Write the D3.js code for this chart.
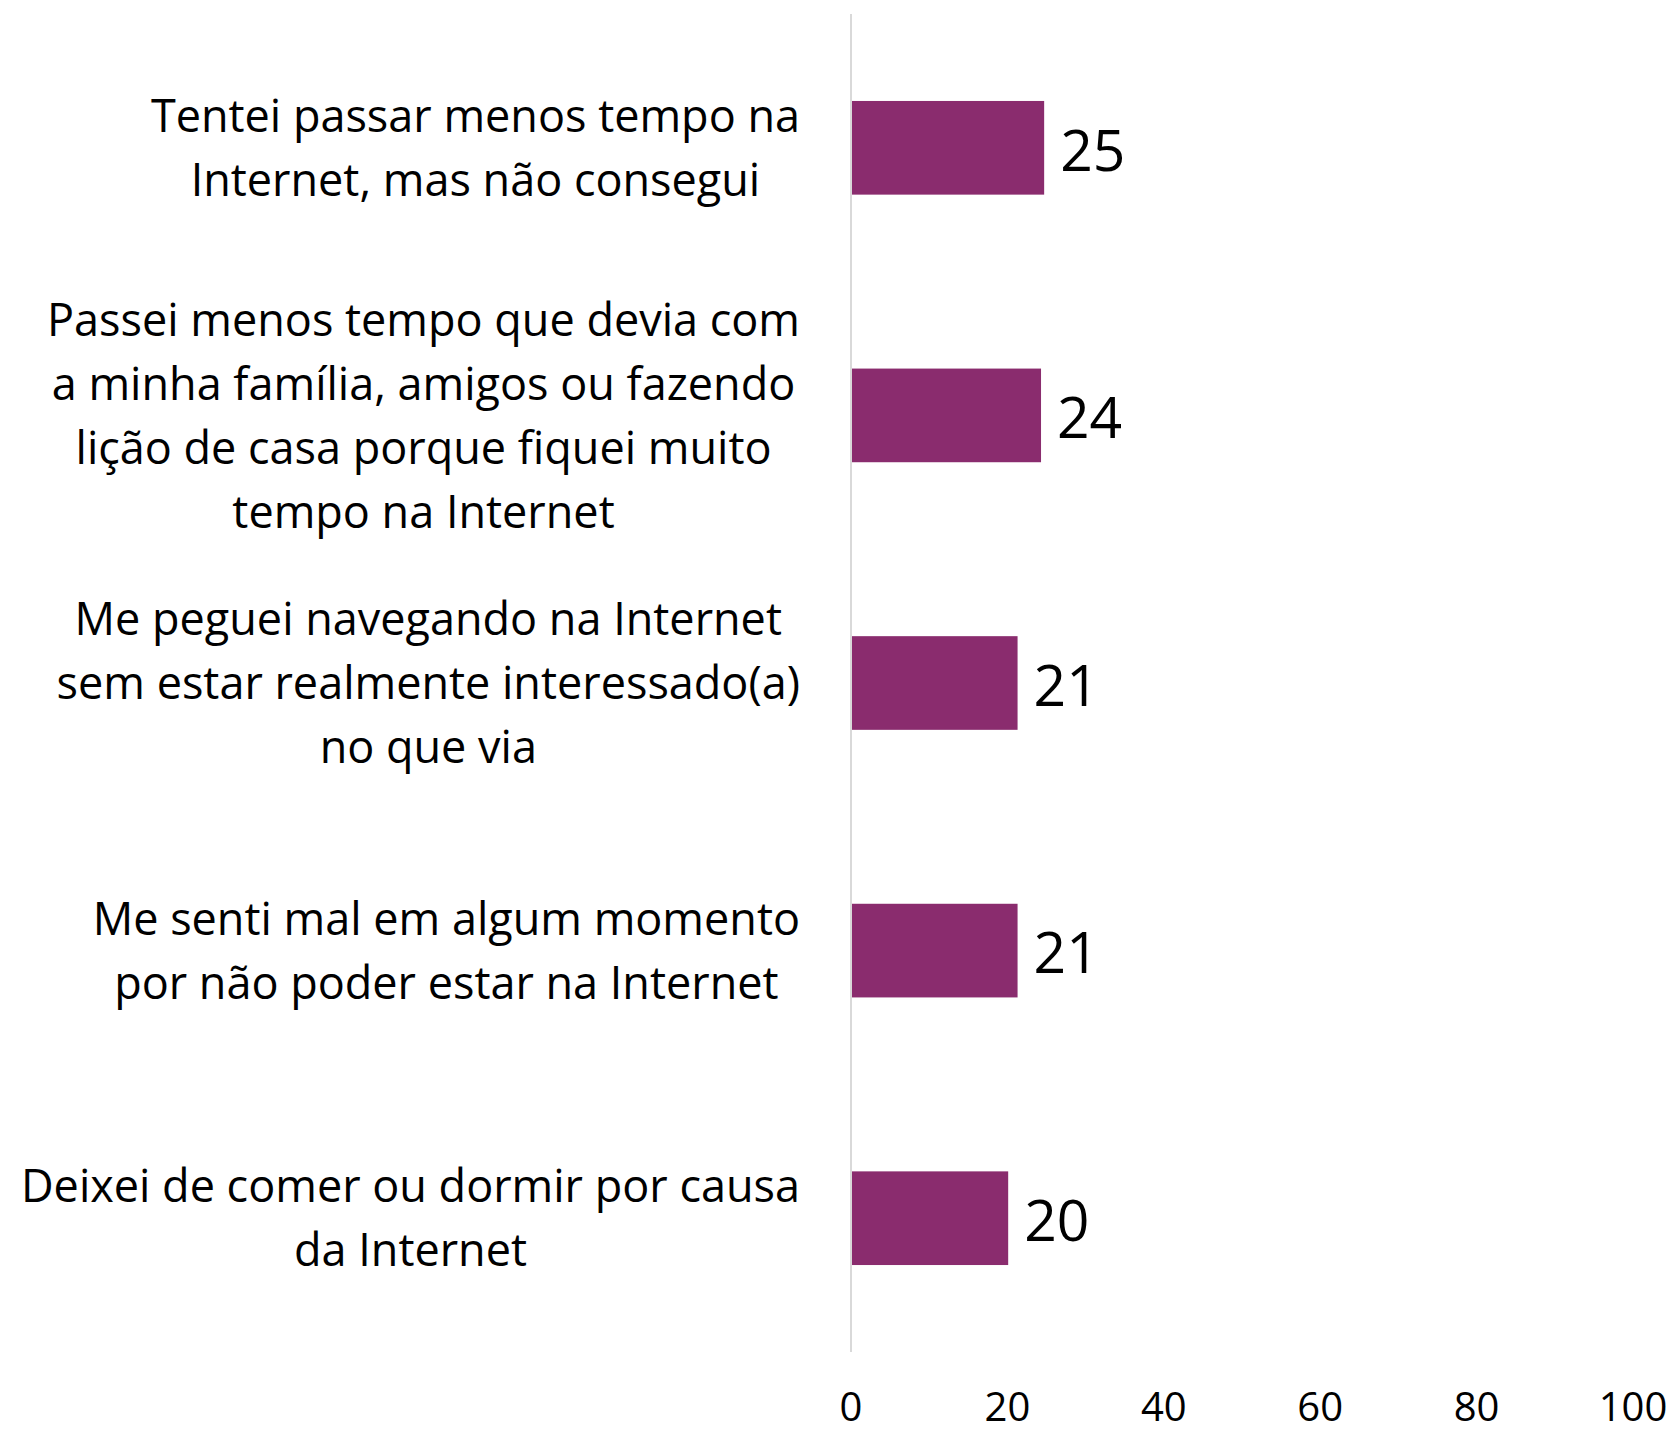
<!DOCTYPE html>
<html>
<head>
<meta charset="utf-8">
<script src="https://cdn.jsdelivr.net/npm/d3@7"></script>
<style>
  body { margin: 0; background: #fff; }
  svg text { font-family: "Open Sans", "Noto Sans", sans-serif; fill: #000; }
</style>
</head>
<body>
<div id="chart"></div>
<script>
// categories, one array of lines per bar
let categories = [
    ["Tentei passar menos tempo na", "Internet, mas não consegui"],
    ["Passei menos tempo que devia com", "a minha família, amigos ou fazendo", "lição de casa porque fiquei muito", "tempo na Internet"],
    ["Me peguei navegando na Internet", "sem estar realmente interessado(a)", "no que via"],
    ["Me senti mal em algum momento", "por não poder estar na Internet"],
    ["Deixei de comer ou dormir por causa", "da Internet"]
];
let values = [24.7, 24.3, 21.3, 21.3, 20.1];
let ticks = [0, 20, 40, 60, 80, 100];

let width = 1676, height = 1434;
let barColor = "#8a2c6e";

let svg = d3.select("#chart").append("svg")
    .attr("width", width)
    .attr("height", height);

let x = d3.scaleLinear().domain([0, 100]).range([851, 1633]);
let y = d3.scaleBand().domain(d3.range(categories.length)).range([14, 1352]).paddingInner(0.65).paddingOuter(0.325);

// axis line
svg.append("line")
    .attr("x1", x(0)).attr("x2", x(0))
    .attr("y1", 14).attr("y2", 1352)
    .attr("stroke", "#d9d9d9")
    .attr("stroke-width", 2);

// bars
svg.selectAll("rect.bar")
    .data(values)
    .enter().append("rect")
    .attr("class", "bar")
    .attr("x", x(0) + 1)
    .attr("y", (d, i) => y(i))
    .attr("width", d => x(d) - x(0) - 1)
    .attr("height", y.bandwidth())
    .attr("fill", barColor);

// value labels
svg.selectAll("text.value")
    .data(values)
    .enter().append("text")
    .attr("class", "value")
    .attr("x", d => x(d) + 16)
    .attr("y", (d, i) => y(i) + y.bandwidth() / 2)
    .attr("dy", "0.4em")
    .style("font-size", "57px")
    .text(d => d3.format(".0f")(d));

// category labels, centred block with right edge at 800
let lineHeight = 64;
let labelRight = 800;
categories.forEach((lines, i) => {
    let g = svg.append("g");
    let cy = y(i) + y.bandwidth() / 2;
    let texts = lines.map((line, j) => g.append("text")
        .attr("y", cy + (j - (lines.length - 1) / 2) * lineHeight)
        .attr("dy", "0.36em")
        .attr("text-anchor", "middle")
        .style("font-size", "45px")
        .text(line));
    let maxW = d3.max(texts, t => t.node().getComputedTextLength());
    texts.forEach(t => t.attr("x", labelRight - maxW / 2));
});

// x axis tick labels
svg.selectAll("text.tick")
    .data(ticks)
    .enter().append("text")
    .attr("class", "tick")
    .attr("x", d => x(d))
    .attr("y", 1421)
    .attr("text-anchor", "middle")
    .style("font-size", "40px")
    .text(d => d);
</script>
</body>
</html>
